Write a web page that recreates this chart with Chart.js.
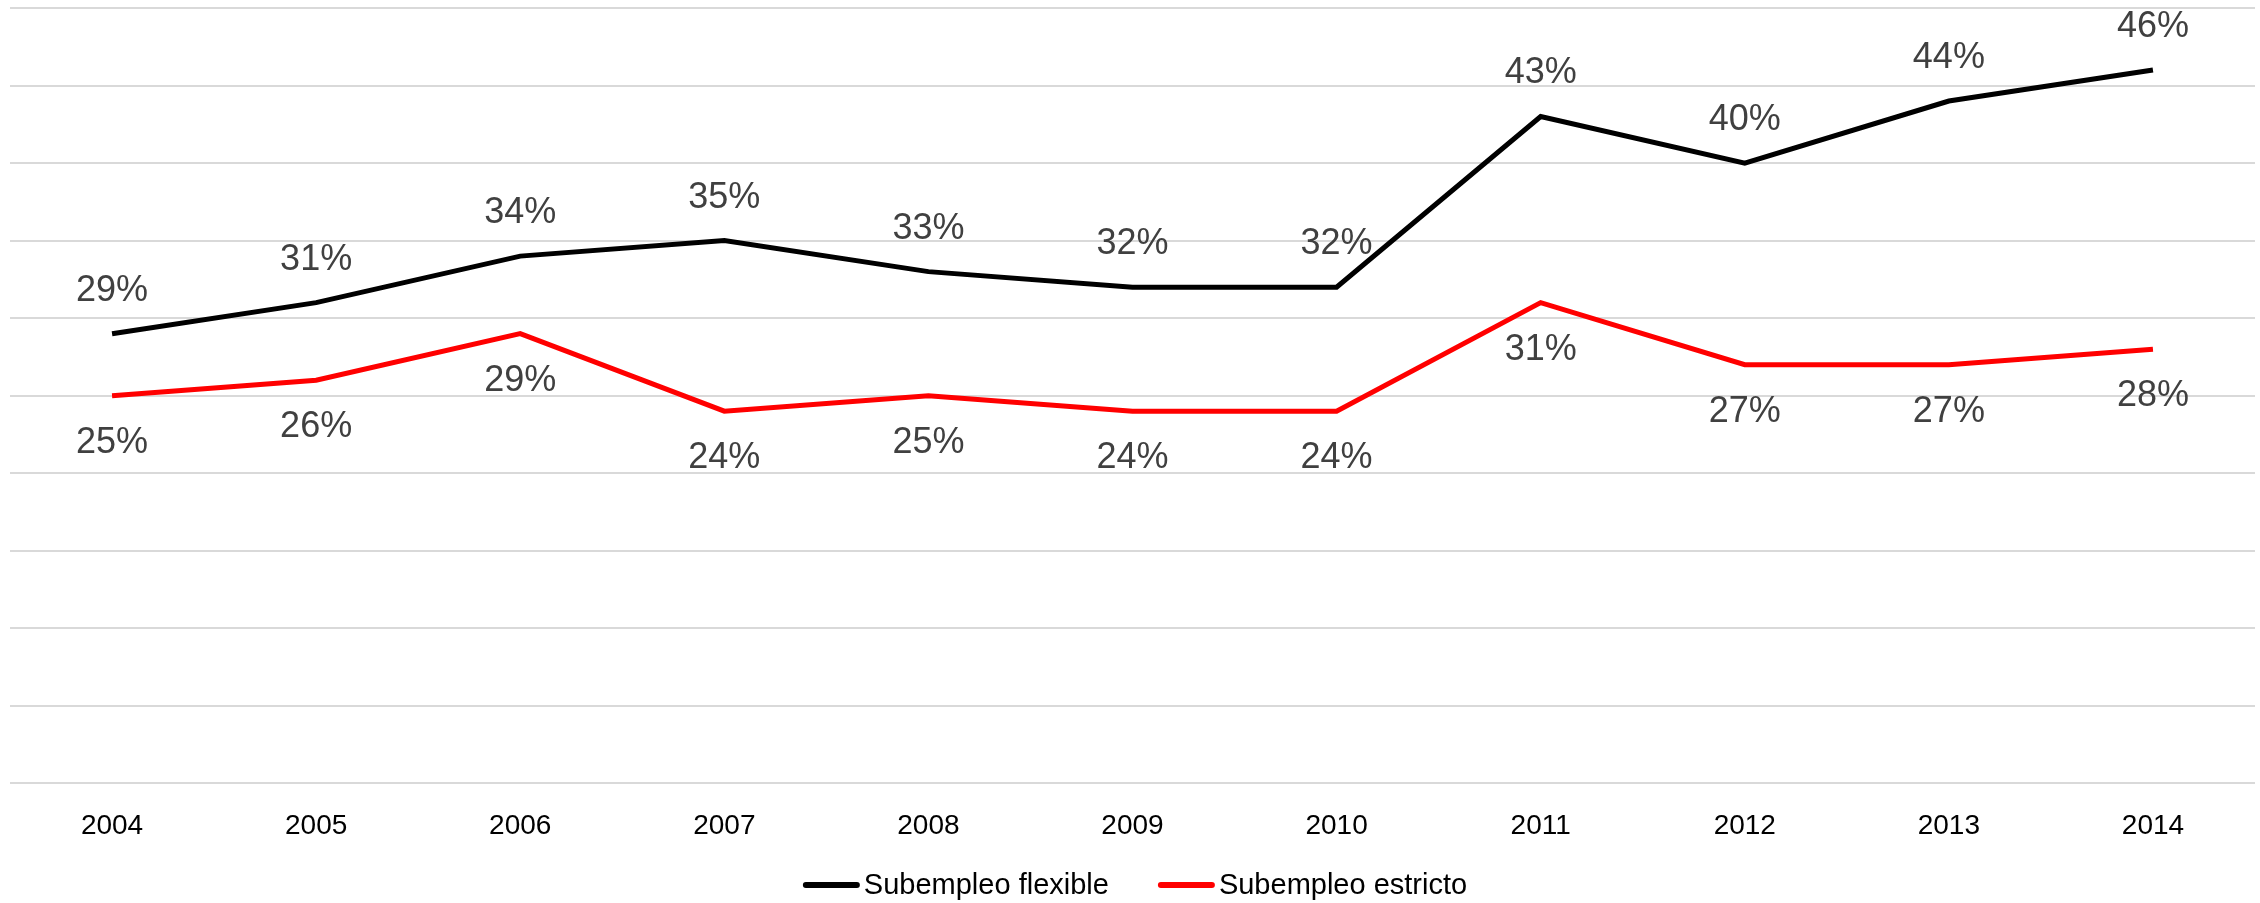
<!DOCTYPE html>
<html>
<head>
<meta charset="utf-8">
<script src="https://cdn.jsdelivr.net/npm/chart.js@4"></script>
<style>
  body { margin: 0; background: #fff; }
  #wrap { width: 2260px; height: 903px; }
</style>
</head>
<body>
<div id="wrap"><canvas id="chart"></canvas></div>
<script>
// Datos
const years = ['2004', '2005', '2006', '2007', '2008', '2009', '2010', '2011', '2012', '2013', '2014'];
const flexible = [29, 31, 34, 35, 33, 32, 32, 43, 40, 44, 46];
const estricto = [25, 26, 29, 24, 25, 24, 24, 31, 27, 27, 28];

const FONT = '"Liberation Sans", Arial, sans-serif';

// Etiquetas de porcentaje sobre / bajo cada punto
const pointLabels = {
    id: 'pointLabels',
    afterDatasetsDraw(chart) {
        const ctx = chart.ctx;
        ctx.save();
        ctx.font = '36px ' + FONT;
        ctx.fillStyle = '#404040';
        ctx.textAlign = 'center';
        ctx.textBaseline = 'middle';
        chart.data.datasets.forEach((ds, i) => {
            const meta = chart.getDatasetMeta(i);
            const offset = i === 0 ? -43 : 47;
            meta.data.forEach((pt, j) => {
                ctx.fillText(ds.data[j] + '%', pt.x, pt.y + offset);
            });
        });
        ctx.restore();
    }
};

// Leyenda dibujada a mano (línea corta + texto pegado, como en Excel)
const bottomLegend = {
    id: 'bottomLegend',
    afterDraw(chart) {
        const ctx = chart.ctx;
        const lineLen = 57, textGap = 4, itemGap = 49;
        const y = chart.height - 18;
        ctx.save();
        ctx.font = '29px ' + FONT;
        const items = chart.data.datasets.map(ds => ({
            text: ds.label,
            color: ds.borderColor,
            w: ctx.measureText(ds.label).width
        }));
        let total = 0;
        items.forEach((it, i) => {
            total += lineLen + textGap + it.w + (i < items.length - 1 ? itemGap : 0);
        });
        let x = chart.width / 2 + 5 - total / 2;
        ctx.textBaseline = 'middle';
        ctx.textAlign = 'left';
        items.forEach(it => {
            ctx.strokeStyle = it.color;
            ctx.lineWidth = 6;
            ctx.lineCap = 'round';
            ctx.beginPath();
            ctx.moveTo(x + 3, y);
            ctx.lineTo(x + lineLen - 3, y);
            ctx.stroke();
            ctx.fillStyle = '#000000';
            ctx.fillText(it.text, x + lineLen + textGap, y + 1);
            x += lineLen + textGap + it.w + itemGap;
        });
        ctx.restore();
    }
};

new Chart(document.getElementById('chart'), {
    type: 'line',
    data: {
        labels: years,
        datasets: [
            {
                label: 'Subempleo flexible',
                data: flexible,
                borderColor: '#000000',
                backgroundColor: '#000000',
                borderWidth: 5,
                pointRadius: 0,
                tension: 0
            },
            {
                label: 'Subempleo estricto',
                data: estricto,
                borderColor: '#ff0000',
                backgroundColor: '#ff0000',
                borderWidth: 5,
                pointRadius: 0,
                tension: 0
            }
        ]
    },
    options: {
        responsive: true,
        maintainAspectRatio: false,
        animation: false,
        layout: {
            padding: { left: 10, right: 5, top: 8, bottom: 42 }
        },
        scales: {
            x: {
                offset: true,
                grid: { display: false },
                border: { display: false },
                ticks: {
                    color: '#000000',
                    padding: 18,
                    font: { family: FONT, size: 28 }
                }
            },
            y: {
                min: 0,
                max: 50,
                grid: { color: '#d9d9d9', lineWidth: 2, drawTicks: false },
                border: { display: false },
                ticks: { display: false, stepSize: 5 }
            }
        },
        plugins: {
            legend: { display: false },
            tooltip: { enabled: false }
        }
    },
    plugins: [pointLabels, bottomLegend]
});
</script>
</body>
</html>
